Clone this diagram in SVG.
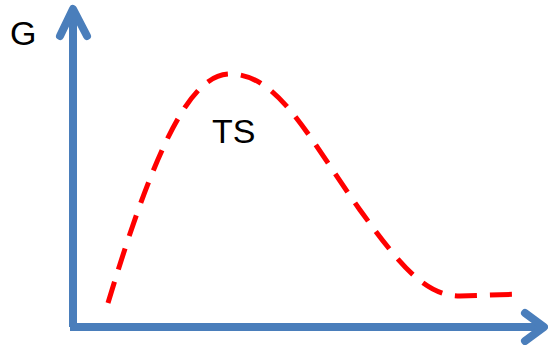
<svg xmlns="http://www.w3.org/2000/svg" width="548" height="345" viewBox="0 0 548 345">
<style>
.axis{fill:none;stroke:#4A7EBB;stroke-width:8;stroke-linecap:round;stroke-linejoin:round}
.curve{fill:none;stroke:#FF0000;stroke-width:5;stroke-dasharray:22 13}
.lbl{font-family:"Liberation Sans",Arial,sans-serif;font-size:34px;fill:#000}
</style>
<rect width="548" height="345" fill="#fff"/>
<g id="connectors">
<path class="axis" d="M73,327 L73,10" style="stroke-linecap:butt"/>
<path class="axis" d="M60,36 L73,9 L87,36"/>
<path class="axis" d="M70,327 L544,327" style="stroke-linecap:butt"/>
<path class="axis" d="M525,313 L544,327 L525,341"/>
<path class="curve" d="M108,303 C160,130 195,72 232,74 C280,76 310,140 360,210 C400,265 425,296 460,296 L522,294"/>
</g>
<g id="label-G"><text class="lbl" x="10" y="45">G</text></g>
<g id="label-TS"><text class="lbl" x="212" y="143">TS</text></g>
</svg>
